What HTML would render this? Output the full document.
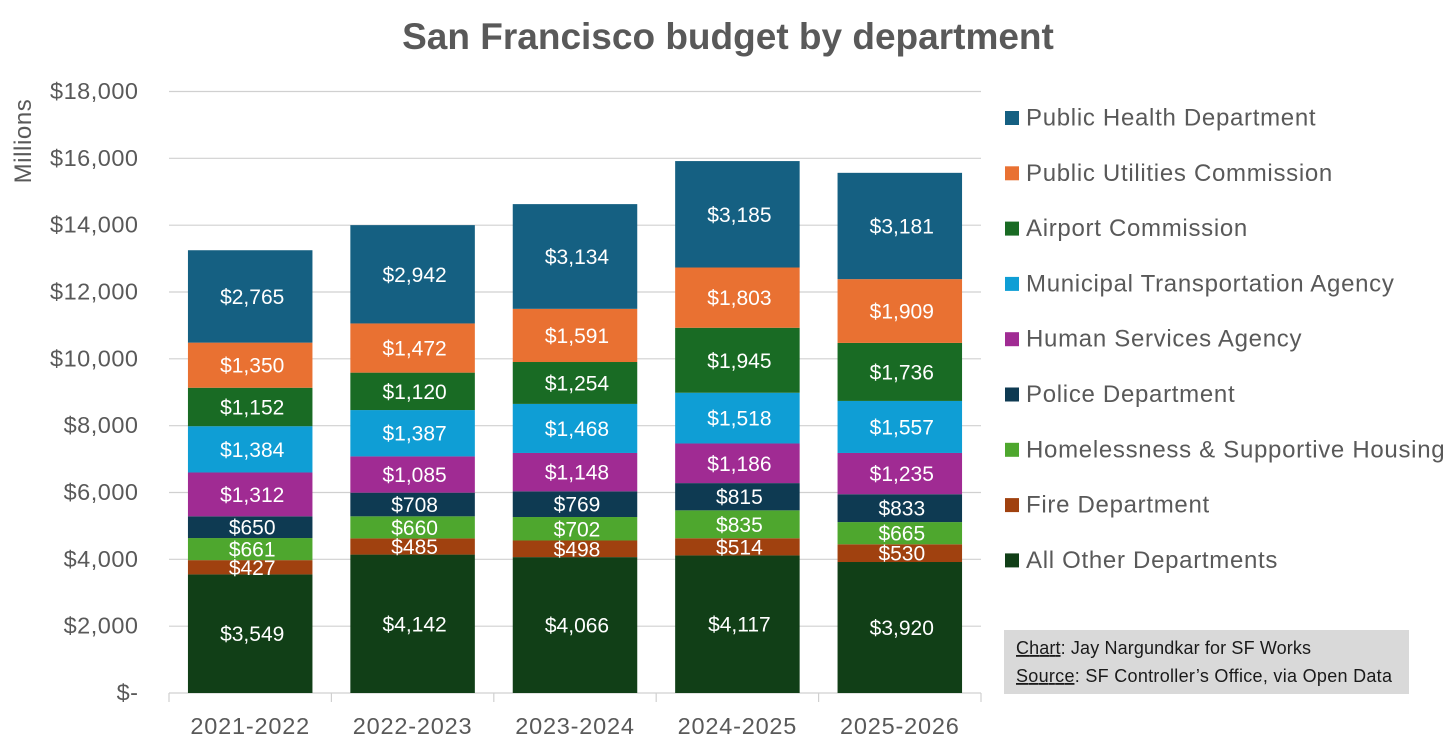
<!DOCTYPE html>
<html lang="en">
<head>
<meta charset="utf-8">
<title>San Francisco budget by department</title>
<style>
html,body{margin:0;padding:0;background:#fff;width:1456px;height:753px;overflow:hidden}
svg{display:block;font-family:"Liberation Sans",sans-serif}
</style>
</head>
<body>
<svg id="chart" width="1456" height="753" viewBox="0 0 1456 753" xmlns="http://www.w3.org/2000/svg">
  <text x="728" y="49" text-anchor="middle" font-size="37" font-weight="bold" fill="#595959">San Francisco budget by department</text>
  <text transform="translate(31,141) rotate(-90)" text-anchor="middle" font-size="24" letter-spacing="0.6" fill="#595959">Millions</text>
  <g id="grid"></g>
  <g id="yticks"></g>
  <g id="bars"></g>
  <g id="xaxis"></g>
  <g id="legend"></g>
  <g>
    <rect x="1004" y="630" width="405" height="64" fill="#d9d9d9"/>
    <text x="1016" y="654" font-size="18" fill="#1a1a1a" textLength="295" lengthAdjust="spacing"><tspan text-decoration="underline">Chart</tspan>: Jay Nargundkar for SF Works</text>
    <text x="1016" y="682" font-size="18" fill="#1a1a1a" textLength="376" lengthAdjust="spacing"><tspan text-decoration="underline">Source</tspan>: SF Controller’s Office, via Open Data</text>
  </g>
</svg>
<script>
const years = ['2021-2022','2022-2023','2023-2024','2024-2025','2025-2026'];
const allOther = [3549,4142,4066,4117,3920];
const fireDept = [427,485,498,514,530];
const homelessness = [661,660,702,835,665];
const police = [650,708,769,815,833];
const humanServices = [1312,1085,1148,1186,1235];
const municipalTransport = [1384,1387,1468,1518,1557];
const airport = [1152,1120,1254,1945,1736];
const publicUtilities = [1350,1472,1591,1803,1909];
const publicHealth = [2765,2942,3134,3185,3181];
const yTicks = [0,2000,4000,6000,8000,10000,12000,14000,16000,18000];

const stackOrder = [
  {name:'All Other Departments', key:'all-other', values:allOther, color:'#113f17'},
  {name:'Fire Department', key:'fire', values:fireDept, color:'#a0410f'},
  {name:'Homelessness & Supportive Housing', key:'homelessness', values:homelessness, color:'#4ea72e'},
  {name:'Police Department', key:'police', values:police, color:'#0e3a52'},
  {name:'Human Services Agency', key:'human-services', values:humanServices, color:'#a02b93'},
  {name:'Municipal Transportation Agency', key:'municipal-transport', values:municipalTransport, color:'#0f9ed5'},
  {name:'Airport Commission', key:'airport', values:airport, color:'#196b24'},
  {name:'Public Utilities Commission', key:'public-utilities', values:publicUtilities, color:'#e97132'},
  {name:'Public Health Department', key:'public-health', values:publicHealth, color:'#156082'}
];

const NS = 'http://www.w3.org/2000/svg';
const plotLeft = 169, plotRight = 981, plotBottom = 693, plotTop = 91.5, yMax = 18000;
const band = (plotRight - plotLeft) / years.length;
const barWidth = 124.5;
function yScale(v){ return plotBottom - (v / yMax) * (plotBottom - plotTop); }
function xCenter(i){ return plotLeft + band * (i + 0.5); }
function fmt(v){ return v === 0 ? '$-' : '$' + v.toLocaleString('en-US'); }
function make(tag, attrs, parent, text){
  const el = document.createElementNS(NS, tag);
  for (const k in attrs) el.setAttribute(k, attrs[k]);
  if (text !== undefined) el.textContent = text;
  parent.appendChild(el);
  return el;
}

const grid = document.getElementById('grid');
const yLabels = document.getElementById('yticks');
yTicks.forEach(function(t){
  const line = make('line', {x1:plotLeft, x2:plotRight, y1:yScale(t), y2:yScale(t), stroke: '#d0d0d0', 'stroke-width':1.2}, grid);
  
  
  const label = make('text', {x:138.5, y:yScale(t)+7.5, 'text-anchor':'end', 'font-size':23.5, 'letter-spacing':0.5, fill:'#595959'}, yLabels, fmt(t));
  
  
});

const bars = document.getElementById('bars');
years.forEach(function(year, i){
  let running = 0;
  stackOrder.forEach(function(s){
    const v = s.values[i];
    const yTop = yScale(running + v);
    const yBot = yScale(running);
    const rect = make('rect', {x:xCenter(i)-barWidth/2, y:yTop, width:barWidth, height:yBot-yTop, fill:s.color}, bars);
    
    
    running += v;
  });
  running = 0;
  stackOrder.forEach(function(s){
    const v = s.values[i];
    const mid = yScale(running + v/2);
    const label = make('text', {x:xCenter(i)+2, y:mid+7.5, 'text-anchor':'middle', 'font-size':21, fill:'#ffffff'}, bars, fmt(v));
    
    
    running += v;
  });
});

const xaxis = document.getElementById('xaxis');
years.forEach(function(year, i){
  const label = make('text', {x:xCenter(i), y:734, 'text-anchor':'middle', 'font-size':23.5, 'letter-spacing':0.8, fill:'#595959'}, xaxis, year);
  
  
});
for (let i = 0; i <= years.length; i++){
  const tick = make('line', {x1:plotLeft+band*i, x2:plotLeft+band*i, y1:plotBottom, y2:plotBottom+9, stroke:'#d0d0d0', 'stroke-width':1.2}, xaxis);
  
  
}

const legend = document.getElementById('legend');
stackOrder.slice().reverse().forEach(function(s, i){
  const cy = 118 + i * 55.3;
  const swatch = make('rect', {x:1005, y:cy-7, width:14, height:14, fill:s.color}, legend);
  
  
  const label = make('text', {x:1026, y:cy+7.5, 'font-size':24, 'letter-spacing':0.7, fill:'#595959'}, legend, s.name);
  
  
});
</script>
</body>
</html>
